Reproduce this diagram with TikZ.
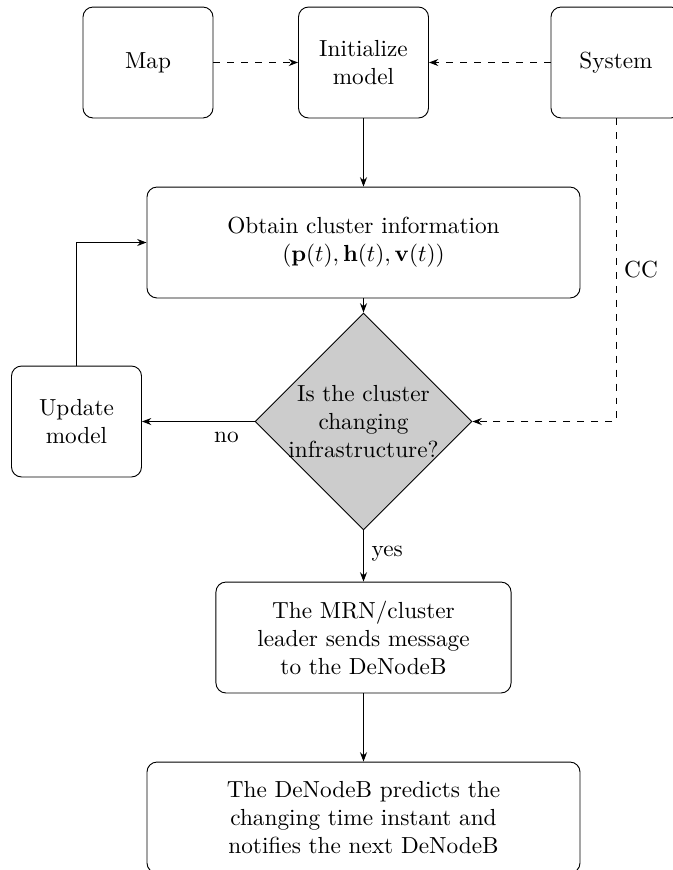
\documentclass[tikz,border=0pt]{standalone}
\usetikzlibrary{shapes.geometric,arrows.meta}
\begin{document}
\begin{tikzpicture}[x=0.43pt,y=-0.43pt,
  box/.style={draw, rounded corners=4.3pt, align=center, inner sep=2pt},
  smallbox/.style={box, minimum width=55.9pt, minimum height=47.7pt},
  widebox/.style={box, minimum width=186.2pt, minimum height=47.7pt},
  midbox/.style={box, minimum width=126.9pt, minimum height=47.7pt},
  decision/.style={draw, diamond, fill=gray!40, minimum width=93.3pt,
    minimum height=93.3pt, inner sep=0pt, aspect=1},
  flow/.style={-{Stealth[length=4pt,width=3pt]}},
  feed/.style={flow, dashed},
]
\useasboundingbox (0,0) rectangle (672,870);

% top row: inputs and model initialisation
\node[smallbox] (map)  at (148,62.5)   {Map};
\node[smallbox] (init) at (363.5,62.5) {Initialize\\model};
\node[smallbox] (sys)  at (616,62.5)   {System};

% main loop
\node[widebox] (obt) at (363.5,242.5)
  {Obtain cluster information\\$(\mathbf{p}(t),\mathbf{h}(t),\mathbf{v}(t))$};
\node[decision] (dec) at (363.5,421.5)
  [label={[align=center]center:{Is the cluster\\changing\\infrastructure?}}] {};
\node[smallbox] (upd) at (76.5,421.5) {Update\\model};

% outcome
\node[midbox] (mrn) at (363.5,637.5)
  {The MRN/cluster\\leader sends message\\to the DeNodeB};
\node[widebox] (out) at (363.5,817.5)
  {The DeNodeB predicts the\\changing time instant and\\notifies the next DeNodeB};

% connectors
\draw[feed] (map) -- (init);
\draw[feed] (sys) -- (init);
\draw[flow] (init) -- (obt);
\draw[flow] (obt) -- (dec);
\draw[feed] (sys.south) |- node[pos=0.25,right] {CC} (dec.east);
\draw[flow] (dec) -- node[pos=0.25,below=1pt] {no} (upd);
\draw[flow] (upd.north) |- (obt.west);
\draw[flow] (dec) -- node[pos=0.45,right] {yes} (mrn);
\draw[flow] (mrn) -- (out);
\end{tikzpicture}
\end{document}
